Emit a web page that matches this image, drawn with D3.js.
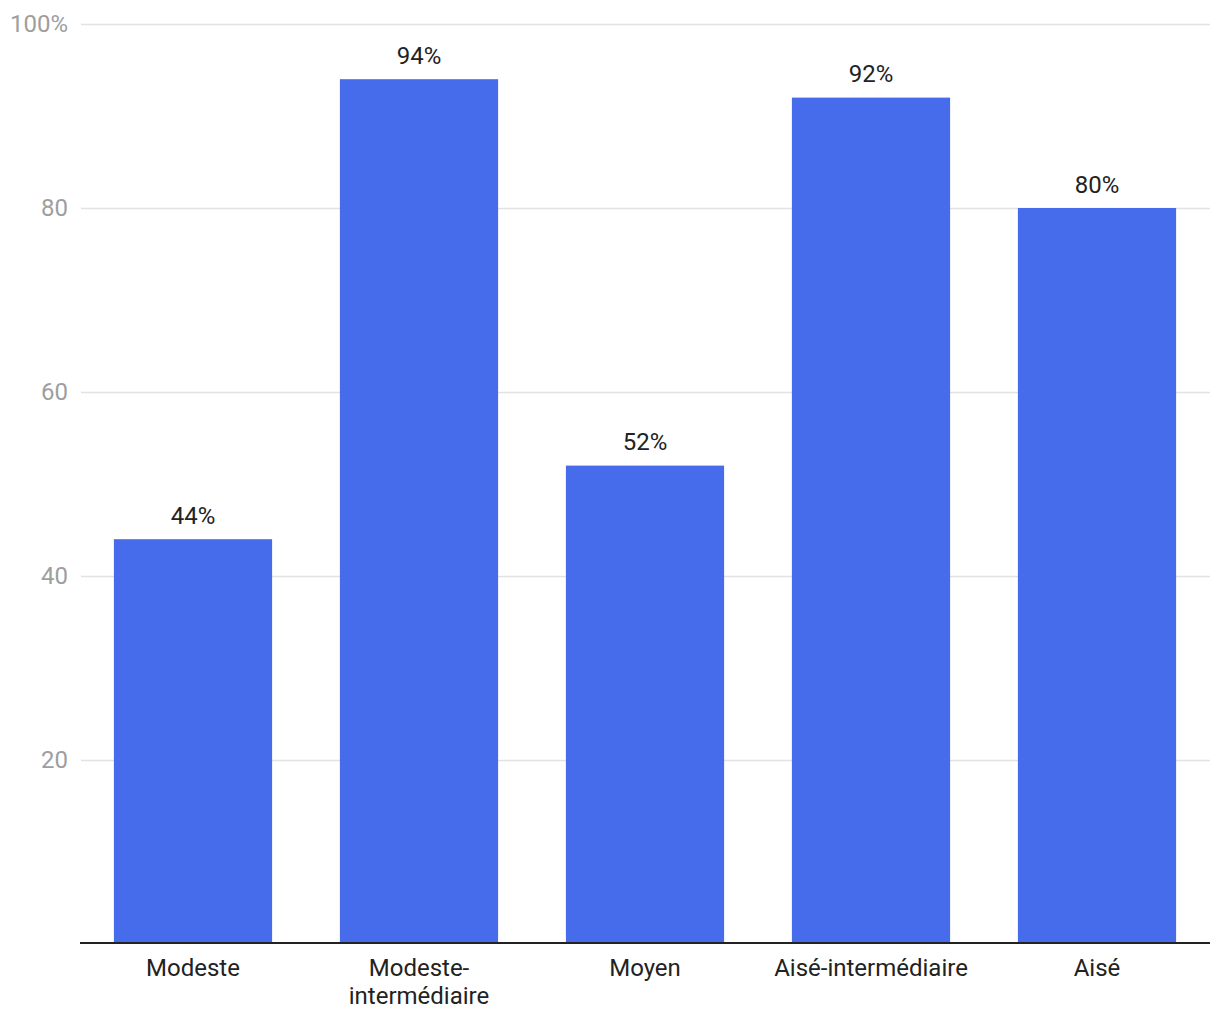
<!DOCTYPE html>
<html>
<head>
<meta charset="utf-8">
<script src="https://cdn.jsdelivr.net/npm/d3@7"></script>
<style>
  html, body { margin: 0; padding: 0; background: #fff; }
  text { font-family: Roboto, "Noto Sans", sans-serif; }
</style>
</head>
<body>
<svg id="chart" width="1220" height="1020"></svg>
<script>
const categories = ["Modeste", "Modeste-intermédiaire", "Moyen", "Aisé-intermédiaire", "Aisé"];
const categoryLines = [["Modeste"], ["Modeste-", "intermédiaire"], ["Moyen"], ["Aisé-intermédiaire"], ["Aisé"]];
const values = [44, 94, 52, 92, 80];
const valueLabels = ["44%", "94%", "52%", "92%", "80%"];
const yTicks = [20, 40, 60, 80, 100];
const yTickLabels = ["20", "40", "60", "80", "100%"];

(function () {
const svg = d3.select("#chart");
const mLeft = 80, mRight = 1210, mTop = 24, mBottom = 944;
const fs = 24;

const x = d3.scaleBand().domain(categories).range([mLeft, mRight]).paddingInner(0.3).paddingOuter(0.15);
const y = d3.scaleLinear().domain([0, 100]).range([mBottom, mTop]);

// gridlines
svg.append("g").selectAll("line").data(yTicks).join("line")
  .attr("x1", mLeft + 1).attr("x2", mRight)
  .attr("y1", d => Math.round(y(d)) + 0.5).attr("y2", d => Math.round(y(d)) + 0.5)
  .attr("stroke", "#e2e2e2").attr("stroke-width", 1.5);

// y tick labels
svg.append("g").selectAll("text").data(yTicks).join("text")
  .attr("x", 68).attr("y", d => y(d))
  .attr("dy", "0.35em")
  .attr("text-anchor", "end")
  .attr("font-size", fs)
  .attr("fill", "#9e9e9e")
  .text((d, i) => yTickLabels[i]);

// bars
svg.append("g").selectAll("rect").data(values).join("rect")
  .attr("x", (d, i) => x(categories[i]))
  .attr("width", x.bandwidth())
  .attr("y", d => y(d))
  .attr("height", d => y(0) - y(d))
  .attr("fill", "#476ceb");

// value labels
svg.append("g").selectAll("text").data(values).join("text")
  .attr("x", (d, i) => x(categories[i]) + x.bandwidth() / 2)
  .attr("y", d => y(d) - 15.5)
  .attr("text-anchor", "middle")
  .attr("font-size", fs)
  .attr("fill", "#222")
  .text((d, i) => valueLabels[i]);

// baseline
svg.append("line")
  .attr("x1", mLeft).attr("x2", mRight)
  .attr("y1", mBottom - 1).attr("y2", mBottom - 1)
  .attr("stroke", "#222").attr("stroke-width", 2);

// category labels
const cat = svg.append("g").selectAll("text").data(categories).join("text")
  .attr("x", d => x(d) + x.bandwidth() / 2)
  .attr("y", 976)
  .attr("text-anchor", "middle")
  .attr("font-size", fs)
  .attr("fill", "#222");
cat.each(function(d, i) {
  const t = d3.select(this);
  categoryLines[i].forEach((line, j) => {
    t.append("tspan").attr("x", x(d) + x.bandwidth() / 2).attr("dy", j === 0 ? 0 : 28).text(line);
  });
});
})();
</script>
</body>
</html>
